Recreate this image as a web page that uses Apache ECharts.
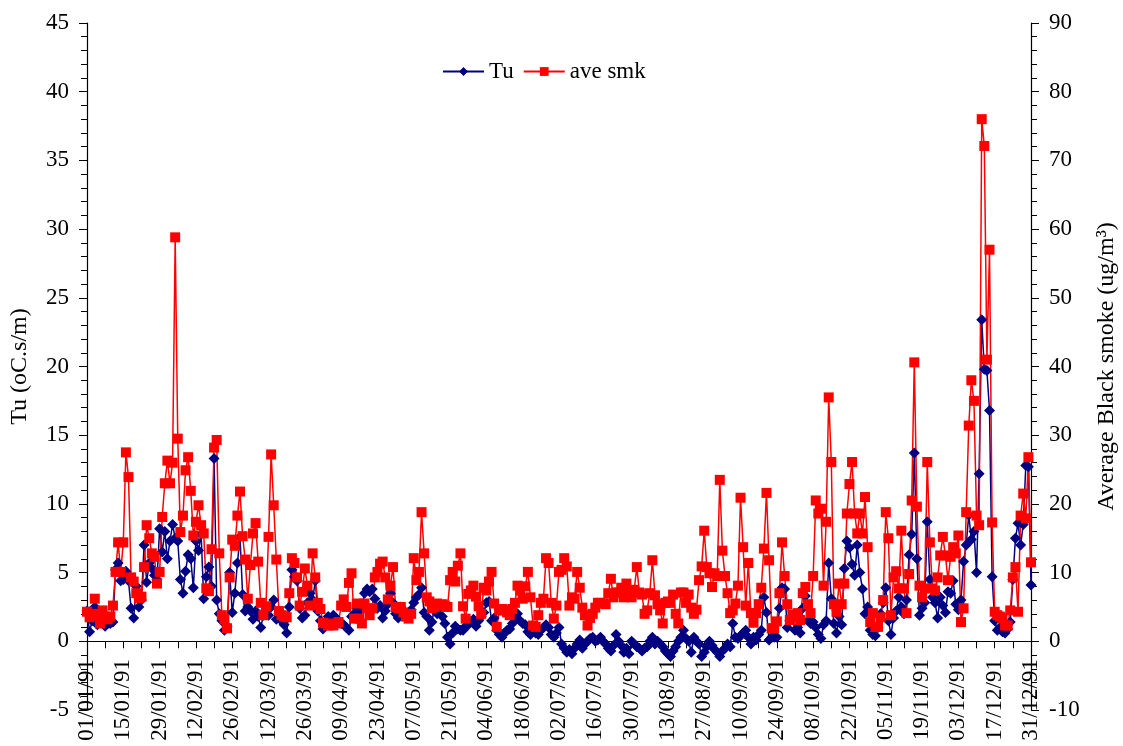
<!DOCTYPE html>
<html>
<head>
<meta charset="utf-8">
<script src="https://cdn.jsdelivr.net/npm/echarts@6/dist/echarts.min.js"></script>
<style>
html,body{margin:0;padding:0;background:#fff;}
#chart{width:1123px;height:746px;}
</style>
</head>
<body>
<div id="chart"></div>
<script>
// Tu (left axis, oC.s/m), one value per day of 1991
var tuValues = [
2.2, 0.7, 1.5, 2.5, 1.2, 1.7, 1.3, 1.1, 1.3, 1.3,
1.4, 5.2, 5.7, 4.4, 4.5, 5.1, 4.4, 2.4, 1.7, 4.0,
2.5, 3.0, 7.0, 4.3, 5.7, 5.3, 4.8, 4.5, 8.2, 6.5,
8.0, 6.0, 7.3, 8.5, 7.5, 7.3, 4.5, 3.5, 5.1, 6.3,
6.0, 3.9, 7.3, 6.6, 7.8, 3.1, 4.7, 5.4, 4.0, 13.3,
3.0, 2.0, 1.5, 0.8, 1.1, 5.0, 2.1, 3.5, 5.7, 7.6,
3.4, 2.2, 2.5, 2.2, 1.6, 2.2, 1.8, 1.0, 1.9, 2.3,
1.9, 2.5, 3.0, 1.6, 2.0, 1.5, 1.2, 0.6, 2.5, 5.2,
4.7, 4.4, 2.4, 1.7, 1.9, 2.8, 3.5, 3.0, 4.4, 2.2,
1.5, 0.9, 1.2, 1.8, 1.6, 1.9, 1.7, 1.5, 1.3, 1.2,
1.0, 0.8, 1.8, 2.0, 2.4, 2.2, 2.6, 3.5, 3.8, 3.6,
3.8, 3.1, 2.4, 2.6, 1.7, 2.2, 2.7, 3.5, 2.8, 2.0,
1.7, 2.5, 2.2, 1.9, 2.1, 2.3, 2.8, 3.2, 3.4, 3.9,
2.1, 1.8, 0.8, 1.4, 2.5, 2.0, 2.5, 1.8, 1.3, 0.3,
-0.2, 0.6, 1.1, 0.9, 0.8, 0.8, 1.1, 1.2, 1.4, 1.6,
1.1, 1.5, 1.8, 2.1, 2.8, 2.9, 1.5, 1.7, 0.8, 0.5,
0.3, 0.6, 0.8, 0.9, 1.3, 1.6, 2.0, 1.5, 1.3, 1.2,
0.7, 0.5, 0.8, 0.6, 0.5, 0.8, 1.0, 1.2, 1.0, 0.5,
0.3, 0.6, 1.0, -0.2, -0.5, -0.8, -0.6, -0.9, -0.5, -0.2,
0.1, -0.5, -0.2, 0.0, 0.2, 0.3, 0.0, 0.1, 0.3, 0.0,
-0.2, -0.5, -0.7, -0.3, 0.5, 0.0, -0.3, -0.8, -0.5, -0.9,
0.0, -0.2, -0.4, -0.5, -0.7, -0.5, -0.4, 0.0, 0.3, -0.2,
0.0, -0.2, -0.4, -0.7, -0.9, -1.1, -0.7, -0.4, 0.0, 0.3,
0.8, 0.2, 0.0, -0.8, 0.3, 0.0, -0.2, -1.1, -0.8, -0.4,
0.0, -0.3, -0.6, -0.8, -1.1, -0.7, -0.5, -0.2, -0.4, 1.3,
0.3, 0.2, 0.4, 0.6, 0.8, 0.3, -0.2, 0.3, 0.1, 0.5,
0.8, 3.2, 2.1, 0.1, 0.3, 0.3, 0.3, 2.4, 3.9, 3.8,
1.0, 1.5, 1.9, 0.8, 1.0, 0.6, 2.4, 3.3, 1.5, 1.3,
1.4, 1.0, 0.5, 0.2, 1.2, 1.5, 5.7, 3.1, 1.3, 0.6,
1.8, 1.2, 5.3, 7.3, 6.8, 5.6, 4.8, 7.0, 5.0, 3.8,
2.0, 2.5, 0.8, 0.5, 0.4, 1.0, 2.0, 2.8, 3.9, 1.5,
0.5, 1.7, 2.2, 3.2, 2.5, 2.0, 3.0, 6.3, 7.8, 13.7,
6.0, 1.9, 2.4, 2.8, 8.7, 4.5, 3.2, 2.8, 1.7, 3.2,
2.6, 2.1, 3.6, 3.5, 4.4, 2.7, 2.3, 3.0, 5.8, 7.0,
9.2, 7.4, 8.0, 5.0, 12.2, 23.4, 19.8, 19.7, 16.8, 4.7,
1.5, 0.8, 1.0, 0.7, 0.6, 0.9, 1.4, 4.5, 7.5, 8.6,
7.0, 8.5, 12.8, 12.7, 4.1
];

// Average black smoke (right axis, ug/m3), one value per day of 1991
var smkValues = [
4.3, 3.5, 4.0, 6.2, 3.8, 2.6, 4.5, 3.6, 3.2, 3.6,
5.2, 10.1, 14.4, 10.1, 14.4, 27.5, 23.9, 9.3, 8.7, 7.0,
6.3, 6.5, 10.8, 16.9, 15.0, 12.8, 12.3, 8.4, 10.1, 18.1,
23.0, 26.3, 23.0, 26.0, 58.8, 29.5, 15.9, 18.3, 24.9, 26.8,
21.9, 15.4, 17.4, 19.8, 16.9, 15.7, 7.7, 7.3, 13.4, 28.2,
29.3, 12.8, 3.8, 3.2, 1.9, 9.3, 14.8, 13.9, 18.3, 21.8,
15.3, 11.9, 6.2, 11.1, 15.7, 17.2, 11.6, 5.6, 3.8, 5.1,
15.2, 27.2, 19.8, 11.9, 4.4, 3.8, 3.6, 3.5, 7.0, 12.1,
11.4, 9.3, 5.2, 7.2, 10.6, 8.1, 5.2, 12.8, 9.3, 5.6,
4.7, 2.7, 2.6, 2.3, 2.4, 2.3, 2.6, 2.8, 5.2, 6.1,
5.0, 8.5, 9.9, 3.3, 5.5, 3.3, 2.6, 5.5, 4.8, 3.8,
4.8, 9.3, 10.1, 11.3, 11.6, 9.3, 6.1, 8.1, 10.8, 5.0,
4.8, 5.0, 4.2, 3.6, 3.3, 4.0, 12.1, 8.9, 10.1, 18.8,
12.8, 6.4, 5.8, 4.8, 5.0, 5.5, 5.2, 5.4, 5.2, 5.0,
8.9, 10.1, 8.7, 11.0, 12.8, 5.1, 3.3, 6.9, 7.4, 8.1,
6.5, 5.1, 4.0, 7.8, 7.4, 8.7, 10.1, 5.5, 2.1, 4.5,
4.7, 4.5, 4.2, 3.8, 4.7, 5.6, 8.1, 7.4, 6.2, 8.0,
10.1, 6.4, 2.3, 2.1, 3.8, 5.6, 6.2, 12.1, 11.4, 5.6,
3.3, 5.2, 10.1, 10.4, 12.1, 10.9, 5.2, 6.4, 6.2, 10.1,
7.8, 4.9, 3.8, 2.3, 3.4, 4.0, 4.9, 5.6, 5.6, 5.5,
5.4, 7.0, 9.1, 6.4, 7.1, 7.1, 7.8, 6.4, 8.4, 7.1,
6.4, 7.5, 10.8, 7.1, 6.8, 4.0, 4.5, 7.0, 11.8, 6.7,
5.4, 4.5, 2.6, 5.6, 5.8, 5.6, 6.8, 4.0, 2.6, 7.1,
7.1, 5.6, 6.8, 4.9, 4.0, 4.6, 8.9, 10.9, 16.1, 10.8,
9.9, 7.9, 9.9, 9.5, 23.5, 13.2, 9.5, 7.0, 4.1, 4.5,
5.5, 8.1, 20.9, 13.7, 5.2, 11.4, 4.1, 2.7, 4.1, 5.4,
7.8, 13.5, 21.6, 11.8, 1.9, 1.9, 2.9, 7.0, 14.4, 9.5,
5.4, 3.1, 3.9, 3.5, 4.1, 3.1, 7.0, 7.9, 5.4, 4.1,
9.5, 20.5, 18.6, 19.3, 8.1, 17.4, 35.5, 26.1, 5.4, 4.3,
8.4, 5.4, 8.4, 18.6, 22.9, 26.1, 18.6, 15.7, 18.6, 15.7,
21.0, 13.7, 2.8, 4.1, 2.1, 2.1, 3.5, 6.0, 18.8, 15.0,
3.8, 9.3, 10.2, 7.7, 16.1, 7.7, 4.1, 9.8, 20.5, 40.6,
19.6, 8.1, 6.4, 7.7, 26.1, 14.4, 7.7, 7.4, 9.3, 12.5,
15.2, 12.5, 8.9, 12.3, 13.7, 12.8, 15.4, 2.8, 4.8, 18.8,
31.4, 38.0, 35.0, 18.3, 16.9, 76.0, 72.1, 41.0, 57.0, 17.3,
4.3, 3.8, 3.6, 3.4, 2.3, 2.3, 4.5, 9.3, 10.8, 4.3,
18.3, 21.5, 17.9, 26.8, 11.5
];

// Category labels: every day of 1991 as dd/mm/yy
var dayLabels = [];
for (var i = 0; i < tuValues.length; i++) {
  var d = new Date(1991, 0, 1 + i);
  var dd = ('0' + d.getDate()).slice(-2);
  var mm = ('0' + (d.getMonth() + 1)).slice(-2);
  dayLabels.push(dd + '/' + mm + '/91');
}

var seriesNames = ['Tu', 'ave smk'];
var leftAxisName = 'Tu (oC.s/m)';
var rightAxisName = 'Average Black smoke (ug/m\u00b3)';

var FONT = '"Liberation Serif", "Times New Roman", serif';
var chart = echarts.init(document.getElementById('chart'), null, {renderer: 'canvas'});
chart.setOption({
  backgroundColor: '#ffffff',
  animation: false,
  textStyle: {fontFamily: FONT, color: '#000'},
  legend: {
    data: seriesNames,
    left: 442,
    top: 60,
    padding: 0,
    itemWidth: 41,
    itemHeight: 11,
    itemGap: 9,
    textStyle: {fontFamily: FONT, fontSize: 23, color: '#000'}
  },
  grid: {left: 87, right: 92, top: 23, bottom: 36, containLabel: false, outerBoundsMode: 'none'},
  xAxis: {
    type: 'category',
    data: dayLabels,
    boundaryGap: false,
    axisLine: {onZero: true, onZeroAxisIndex: 0, lineStyle: {color: '#000', width: 1.2}},
    axisTick: {show: true, interval: 6, length: 7, inside: false, lineStyle: {color: '#000'}},
    axisLabel: {interval: 13, rotate: 90, margin: -51, fontFamily: FONT, fontSize: 23, color: '#000'},
    splitLine: {show: false}
  },
  yAxis: [
    {
      type: 'value', min: -5, max: 45, interval: 5, position: 'left',
      name: leftAxisName, nameLocation: 'middle', nameGap: 55, nameRotate: 90,
      nameTextStyle: {fontFamily: FONT, fontSize: 24, color: '#000'},
      axisLine: {show: true, lineStyle: {color: '#000', width: 1.2}},
      axisTick: {show: true, length: 8, lineStyle: {color: '#000'}},
      minorTick: {show: true, splitNumber: 5, length: 6, lineStyle: {color: '#000'}},
      axisLabel: {margin: 18, fontFamily: FONT, fontSize: 23, color: '#000'},
      splitLine: {show: false}
    },
    {
      type: 'value', min: -10, max: 90, interval: 10, position: 'right',
      name: rightAxisName, nameLocation: 'middle', nameGap: 64, nameRotate: 90,
      nameTextStyle: {fontFamily: FONT, fontSize: 24, color: '#000'},
      axisLine: {show: true, lineStyle: {color: '#000', width: 1.2}},
      axisTick: {show: true, length: 8, lineStyle: {color: '#000'}},
      minorTick: {show: true, splitNumber: 5, length: 6, lineStyle: {color: '#000'}},
      axisLabel: {margin: 18, fontFamily: FONT, fontSize: 23, color: '#000'},
      splitLine: {show: false}
    }
  ],
  series: [
    {
      name: seriesNames[0], type: 'line', yAxisIndex: 0, data: tuValues,
      symbol: 'diamond', symbolSize: 11, showAllSymbol: true,
      lineStyle: {color: '#000080', width: 1.5},
      itemStyle: {color: '#000080'}
    },
    {
      name: seriesNames[1], type: 'line', yAxisIndex: 1, data: smkValues,
      symbol: 'rect', symbolSize: 10, showAllSymbol: true,
      lineStyle: {color: '#ff0000', width: 1.5},
      itemStyle: {color: '#ff0000'}
    }
  ]
});
</script>
</body>
</html>
